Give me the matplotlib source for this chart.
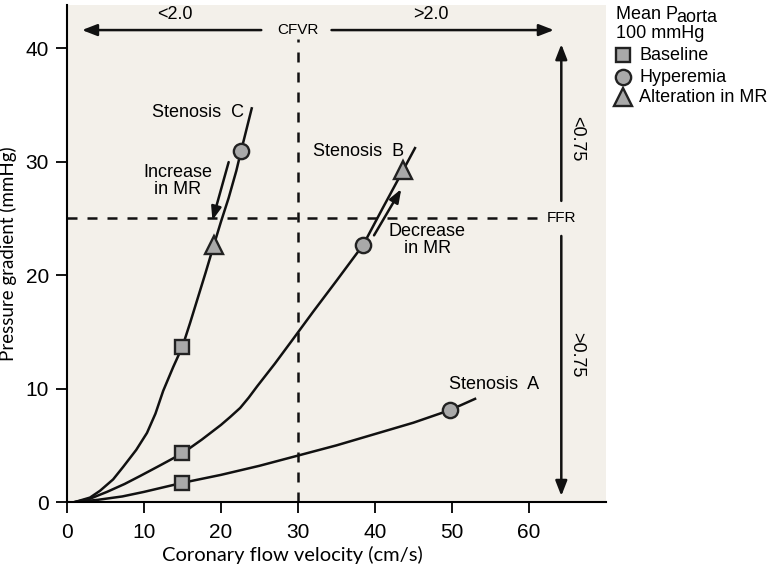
import matplotlib.pyplot as plt
import numpy as np

plt.rcParams['font.family'] = ['Liberation Sans', 'DejaVu Sans']

# curves (velocity cm/s, gradient mmHg)
a_x = [1, 4, 7.2, 10, 15, 20, 25, 30, 35, 40, 45, 49.7, 53]
a_y = [0, 0.2, 0.5, 0.9, 1.7, 2.4, 3.2, 4.1, 5.0, 6.0, 7.0, 8.1, 9.1]
b_x = [1, 3, 5.2, 7.5, 9.5, 12, 15, 17.5, 20, 21.2, 22.5, 23.6, 24.7, 27, 29.4, 32, 35, 38.5, 41, 43.7, 45.2]
b_y = [0, 0.3, 0.9, 1.6, 2.3, 3.2, 4.3, 5.5, 6.8, 7.5, 8.3, 9.2, 10.2, 12.2, 14.4, 16.8, 19.5, 22.7, 25.9, 29.3, 31.2]
c_x = [1, 3, 4.3, 6, 7.3, 9, 10.4, 11.5, 12.5, 13.8, 15, 16, 17, 18, 19.1, 20, 21, 22, 22.6, 23.3, 24]
c_y = [0, 0.4, 1.0, 2.0, 3.1, 4.6, 6.1, 7.8, 9.8, 11.9, 13.7, 15.8, 18.0, 20.2, 22.7, 24.7, 26.8, 29.2, 30.9, 32.8, 34.7]

# markers
base_x = [15, 15, 15]
base_y = [1.7, 4.3, 13.7]
hyper_x = [49.7, 38.5, 22.6]
hyper_y = [8.1, 22.7, 30.9]
alter_x = [43.7, 19.1]
alter_y = [29.3, 22.7]

cfvr_cut = 30
ffr_cut = 25

fig = plt.figure(figsize=(7.69, 5.68), dpi=100)
ax = fig.add_axes([0.087, 0.116, 0.701, 0.875])
ax.set_facecolor('#f3f0ea')
ax.set_xlim(0, 70)
ax.set_ylim(0, 43.8)

for s in ['top', 'right']:
    ax.spines[s].set_visible(False)
for s in ['left', 'bottom']:
    ax.spines[s].set_linewidth(1.5)
ax.tick_params(width=1.3, length=8, labelsize=15, pad=5)
ax.tick_params(axis='x', pad=7)
ax.set_xticks(range(0, 61, 10))
ax.set_yticks(range(0, 41, 10))

ax.set_xlabel('Coronary flow velocity (cm/s)', fontsize=14.5, family=['Lato', 'DejaVu Sans'])
ax.set_ylabel('Pressure gradient (mmHg)', fontsize=13.5, family=['Lato', 'DejaVu Sans'])
ax.xaxis.set_label_coords(0.418, -0.089)
ax.yaxis.set_label_coords(-0.092, 0.5)

lw = 1.8
ax.plot(a_x, a_y, color='#111111', lw=lw)
ax.plot(b_x, b_y, color='#111111', lw=lw)
ax.plot(c_x, c_y, color='#111111', lw=lw)

# thresholds
ax.plot([cfvr_cut, cfvr_cut], [0, 40.8], ls=(0, (4, 4)), color='#111111', lw=1.8)
ax.plot([0, 62], [ffr_cut, ffr_cut], ls=(0, (4, 4)), color='#111111', lw=1.8)
ax.text(cfvr_cut, 41.6, 'CFVR', ha='center', va='center', fontsize=11)
ax.text(64.2, ffr_cut, 'FFR', ha='center', va='center', fontsize=11)

arr = dict(arrowstyle='-|>,head_length=0.9,head_width=0.35', color='#111111', lw=1.8)
ax.annotate('', xy=(1.6, 41.6), xytext=(25.6, 41.6), arrowprops=arr)
ax.annotate('', xy=(63.6, 41.6), xytext=(34, 41.6), arrowprops=arr)
ax.text(14, 43.0, '<2.0', ha='center', va='center', fontsize=13)
ax.text(47.3, 43.0, '>2.0', ha='center', va='center', fontsize=13)

ax.annotate('', xy=(64.2, 40.6), xytext=(64.2, 26.3), arrowprops=arr)
ax.annotate('', xy=(64.2, 0.3), xytext=(64.2, 23.7), arrowprops=arr)
ax.text(66.2, 32, '<0.75', ha='center', va='center', rotation=-90, fontsize=13)
ax.text(66.2, 13, '>0.75', ha='center', va='center', rotation=-90, fontsize=13)

# change in MR arrows
arr2 = dict(arrowstyle='-|>,head_length=0.8,head_width=0.3', color='#111111', lw=1.8)
ax.annotate('', xy=(18.8, 24.6), xytext=(21.1, 30.2), arrowprops=arr2)
ax.annotate('', xy=(43.6, 27.8), xytext=(39.7, 23.3), arrowprops=arr2)
ax.text(14.4, 28.3, 'Increase\nin MR', ha='center', va='center', fontsize=13, linespacing=0.95)
ax.text(46.8, 23.1, 'Decrease\nin MR', ha='center', va='center', fontsize=13, linespacing=0.95)

ax.text(23.0, 34.3, 'Stenosis  C', ha='right', va='center', fontsize=13)
ax.text(43.8, 30.9, 'Stenosis  B', ha='right', va='center', fontsize=13)
ax.text(61.3, 10.4, 'Stenosis  A', ha='right', va='center', fontsize=13)

mk = dict(color='#a9a9a9', markeredgecolor='#222222', markeredgewidth=1.7, ls='none', zorder=5)
ax.plot(base_x, base_y, marker='s', markersize=10, **mk)
ax.plot(hyper_x, hyper_y, marker='o', markersize=11, **mk)
ax.plot(alter_x, alter_y, marker='^', markersize=13, **mk)

# legend block outside the axes
fig.text(0.801, 1 - 19 / 568, 'Mean P', fontsize=13, va='baseline')
fig.text(0.880, 1 - 21.5 / 568, 'aorta', fontsize=13, va='baseline')
fig.text(0.801, 1 - 38 / 568, '100 mmHg', fontsize=13, va='baseline')
leg_y = [1 - 55 / 568, 1 - 77 / 568, 1 - 97 / 568]
leg_m = ['s', 'o', '^']
leg_s = [10, 11, 13]
leg_t = ['Baseline', 'Hyperemia', 'Alteration in MR']
for yy, m, s, t in zip(leg_y, leg_m, leg_s, leg_t):
    fig.lines.append(plt.Line2D([0.810], [yy], marker=m, markersize=s, transform=fig.transFigure, **mk))
    fig.text(0.831, yy, t, fontsize=13, va='center')

fig.savefig('out.png', dpi=100)
